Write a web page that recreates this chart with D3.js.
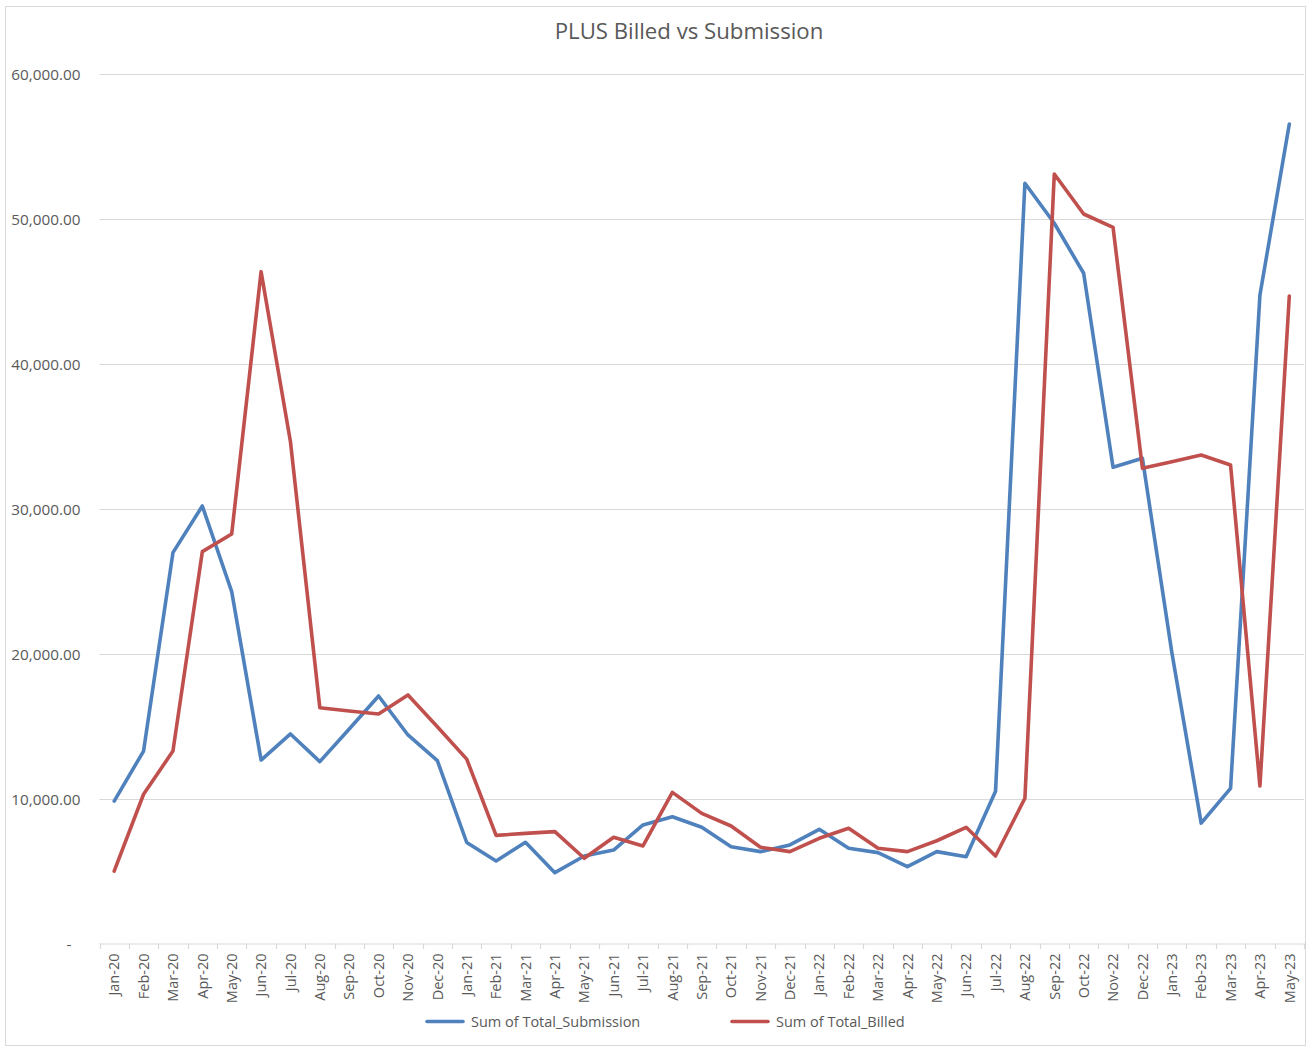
<!DOCTYPE html>
<html>
<head>
<meta charset="utf-8">
<script src="https://cdn.jsdelivr.net/npm/d3@7"></script>
<style>
  html, body { margin: 0; padding: 0; background: #ffffff; }
  svg { display: block; }
  text { font-family: "Open Sans", "Noto Sans", sans-serif; fill: #595959; }
</style>
</head>
<body>
<svg id="chart" width="1312" height="1046"></svg>
<script>
const title = "PLUS Billed vs Submission";
const months = ["Jan-20","Feb-20","Mar-20","Apr-20","May-20","Jun-20","Jul-20","Aug-20","Sep-20","Oct-20","Nov-20","Dec-20",
  "Jan-21","Feb-21","Mar-21","Apr-21","May-21","Jun-21","Jul-21","Aug-21","Sep-21","Oct-21","Nov-21","Dec-21",
  "Jan-22","Feb-22","Mar-22","Apr-22","May-22","Jun-22","Jul-22","Aug-22","Sep-22","Oct-22","Nov-22","Dec-22",
  "Jan-23","Feb-23","Mar-23","Apr-23","May-23"];
const submission = [9830,13280,26970,30190,24280,12660,14460,12550,14800,17080,14390,12620,
  6970,5690,6980,4890,6040,6450,8180,8750,8020,6680,6340,6800,
  7880,6570,6270,5300,6340,5990,10500,52460,49700,46250,32860,33480,
  20100,8310,10710,44750,56550];
const billed = [5000,10300,13280,27040,28260,46360,34620,16270,16040,15840,17150,14960,
  12720,7460,7600,7720,5880,7330,6730,10430,8980,8110,6640,6340,
  7260,7950,6570,6340,7090,8020,6040,10020,53100,50340,49420,32790,
  33250,33710,33020,10870,44680];
const yTicks = [0,10000,20000,30000,40000,50000,60000];
const seriesNames = ["Sum of Total_Submission","Sum of Total_Billed"];
const seriesColors = ["#4F81BD","#C0504D"];

const svg = d3.select("#chart");

// outer chart border
svg.append("rect").attr("x",5.5).attr("y",6.5).attr("width",1300).attr("height",1039)
  .attr("fill","#fff").attr("stroke","#D9D9D9").attr("stroke-width",1);

const plotL = 99.5, plotR = 1304, plotT = 74, plotB = 943.5;
const x = d3.scaleBand().domain(months).range([plotL, plotR]).padding(0);
const y = d3.scaleLinear().domain([0, 60000]).range([plotB, plotT]);

// gridlines
svg.append("g").selectAll("line").data(yTicks.filter(d => d > 0)).join("line")
  .attr("x1", plotL).attr("x2", plotR)
  .attr("y1", d => Math.round(y(d)) + 0.5).attr("y2", d => Math.round(y(d)) + 0.5)
  .attr("stroke","#D9D9D9").attr("stroke-width",1.2);

// y axis labels
const fmt = d3.format(",.2f");
const yAxis = d3.axisLeft(y).tickValues(yTicks).tickSize(0).tickPadding(0)
  .tickFormat(d => d === 0 ? "-" : fmt(d));
const gy = svg.append("g").attr("transform", `translate(80.5,0)`).call(yAxis);
gy.select(".domain").remove();
gy.selectAll("text").style("font-family", '"Open Sans", sans-serif').style("font-size","15.3px")
  .attr("fill","#595959").attr("dy","0.36em")
  .attr("dx", d => d === 0 ? "-9px" : "0px");

// x axis
const xAxis = d3.axisBottom(x).tickSize(0).tickPadding(0);
const gx = svg.append("g").attr("transform", `translate(0,${plotB})`).call(xAxis);
gx.select(".domain").attr("stroke","#D9D9D9").attr("stroke-width",1.2).attr("d", `M${plotL},0.5H${plotR}`);
gx.selectAll("text")
  .style("font-family", '"Open Sans", sans-serif').style("font-size","14.5px")
  .attr("fill","#595959")
  .attr("text-anchor","end")
  .attr("transform","rotate(-90)")
  .attr("x", -10).attr("y", 0).attr("dy","0.36em");

// tick marks at category boundaries
const bounds = months.map(m => x(m)).concat([plotR]);
svg.append("g").selectAll("line").data(bounds).join("line")
  .attr("x1", d => Math.round(d) + 0.5).attr("x2", d => Math.round(d) + 0.5)
  .attr("y1", plotB).attr("y2", plotB + 5.5)
  .attr("stroke","#D9D9D9").attr("stroke-width",1.2);

// lines
const cx = m => x(m) + x.bandwidth() / 2;
const line = d3.line().x((d, i) => cx(months[i])).y(d => y(d));
[submission, billed].forEach((vals, k) => {
  svg.append("path").datum(vals).attr("d", line)
    .attr("fill","none").attr("stroke", seriesColors[k]).attr("stroke-width", 3.6)
    .attr("stroke-linejoin","round").attr("stroke-linecap","round");
});

// title
svg.append("text").attr("x", 689).attr("y", 38.5).attr("text-anchor","middle")
  .style("font-size","22.2px").text(title);

// legend
const legX = [427, 732];
seriesNames.forEach((name, k) => {
  const g = svg.append("g");
  g.append("line").attr("x1", legX[k]).attr("x2", legX[k] + 36).attr("y1", 1021.5).attr("y2", 1021.5)
    .attr("stroke", seriesColors[k]).attr("stroke-width", 3.6).attr("stroke-linecap","round");
  g.append("text").attr("x", legX[k] + 44).attr("y", 1021.5).attr("dy","0.36em")
    .style("font-size","14.5px").text(name);
});
</script>
</body>
</html>
